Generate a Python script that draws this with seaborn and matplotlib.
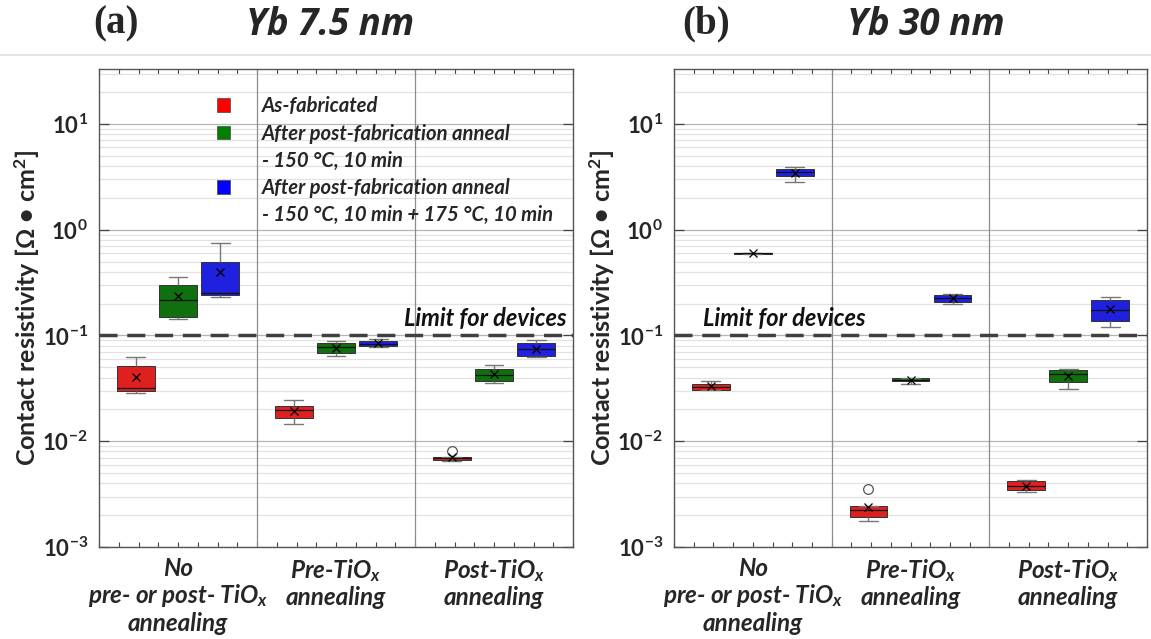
import numpy as np
import pandas as pd
import matplotlib
matplotlib.use("Agg")
import matplotlib.pyplot as plt
import seaborn as sns
from matplotlib.patches import Patch
from matplotlib.lines import Line2D
from matplotlib.ticker import FixedLocator, FuncFormatter, LogLocator, NullFormatter

# ---------------- data ----------------
groups = ["No\npre- or post- TiO$_x$\nannealing", "Pre-TiO$_x$\nannealing", "Post-TiO$_x$\nannealing"]
conditions = ["As-fabricated", "150C", "150C+175C"]
colors = ["#ff0000", "#008000", "#0000ff"]

# Yb 7.5 nm, one list per group (No / Pre / Post)
yb75_asfab = [[0.0285, 0.030, 0.0322, 0.0516, 0.062],
              [0.0147, 0.01675, 0.0198, 0.0216, 0.0247],
              [0.0065, 0.0067, 0.0069, 0.0071, 0.0081]]
yb75_150 = [[0.143, 0.151, 0.218, 0.301, 0.361],
            [0.064, 0.0684, 0.0772, 0.0855, 0.089],
            [0.0353, 0.0371, 0.0423, 0.0478, 0.0525]]
yb75_175 = [[0.230, 0.243, 0.254, 0.499, 0.745],
            [0.0772, 0.0789, 0.0836, 0.0885, 0.0924],
            [0.0623, 0.0636, 0.0739, 0.0841, 0.0911]]

# Yb 30 nm
yb30_asfab = [[0.0303, 0.0306, 0.0329, 0.0351, 0.0371],
              [0.00176, 0.00192, 0.00225, 0.00242, 0.00356],
              [0.00329, 0.00348, 0.00379, 0.00423, 0.00428]]
yb30_150 = [[0.588, 0.594, 0.598, 0.601, 0.606],
            [0.0346, 0.0369, 0.0381, 0.0394, 0.0398],
            [0.031, 0.0366, 0.0428, 0.0474, 0.0478]]
yb30_175 = [[2.85, 3.24, 3.48, 3.79, 3.94],
            [0.199, 0.209, 0.228, 0.2415, 0.245],
            [0.121, 0.138, 0.176, 0.216, 0.230]]

device_limit = 0.1
yticks = [1e-3, 1e-2, 1e-1, 1e0, 1e1]

legend_labels = ["As-fabricated", "After post-fabrication anneal", "- 150 °C, 10 min",
                 "After post-fabrication anneal", "- 150 °C, 10 min + 175 °C, 10 min"]


def make_df(series_list):
    rows = []
    for cond, series in zip(conditions, series_list):
        for g, vals in zip(groups, series):
            for v in vals:
                rows.append({"group": g, "condition": cond, "value": v})
    return pd.DataFrame(rows)


# ---------------- style ----------------
sns.set_theme(style="white")
plt.rcParams["font.family"] = ["Lato", "DejaVu Sans"]
plt.rcParams["font.weight"] = "bold"
plt.rcParams["mathtext.fontset"] = "custom"
plt.rcParams["mathtext.rm"] = "Lato:bold"
plt.rcParams["mathtext.it"] = "Lato:bold:italic"
plt.rcParams["mathtext.bf"] = "Lato:bold"

W, H = 1151, 639
fig = plt.figure(figsize=(W / 100, H / 100), dpi=100)
fig.patch.set_facecolor("white")

ax_a = fig.add_axes([99 / W, 1 - 547 / H, 474 / W, 478 / H])
ax_b = fig.add_axes([674 / W, 1 - 547 / H, 473 / W, 478 / H])

panels = [(ax_a, make_df([yb75_asfab, yb75_150, yb75_175])),
          (ax_b, make_df([yb30_asfab, yb30_150, yb30_175]))]

for ax, df in panels:
    sns.boxplot(data=df, x="group", y="value", hue="condition", order=groups,
                hue_order=conditions, palette=colors, width=0.8, gap=0.1,
                showmeans=True, linewidth=0.7, linecolor="#333333", legend=False,
                meanprops=dict(marker="x", markeredgecolor="black", markerfacecolor="black",
                               markersize=6, markeredgewidth=0.9),
                medianprops=dict(color="#111111", linewidth=0.9),
                whiskerprops=dict(color="#777777", linewidth=1.0),
                capprops=dict(color="#777777", linewidth=1.0),
                flierprops=dict(marker="o", markerfacecolor="white", markeredgecolor="#555555",
                                markersize=7, markeredgewidth=0.9),
                ax=ax, zorder=3)
    ax.set_yscale("log")
    ax.set_ylim(1e-3, 10 ** 1.52)
    ax.set_xlim(-0.5, 2.5)
    ax.set_xlabel("")
    ax.set_ylabel("Contact resistivity [Ω • cm$^2$]", fontsize=18, fontweight="bold", labelpad=0)

    # grid
    ax.yaxis.set_major_locator(FixedLocator(yticks))
    ax.yaxis.set_minor_locator(LogLocator(base=10, subs=np.arange(2, 10)))
    ax.yaxis.set_minor_formatter(NullFormatter())
    ax.yaxis.set_major_formatter(FuncFormatter(lambda v, p: "10$^{%d}$" % int(round(np.log10(v)))))
    ax.grid(True, axis="y", which="major", color="#b5b5b5", lw=0.9, zorder=0)
    ax.grid(True, axis="y", which="minor", color="#e2e2e2", lw=0.9, zorder=0)
    ax.grid(False, axis="x")
    for xs in (0.5, 1.5):
        ax.axvline(xs, color="#8c8c8c", lw=0.9, zorder=1)
    ax.set_axisbelow(True)

    # ticks
    ax.set_xticks([0, 1, 2])
    ax.set_xticklabels(groups, fontsize=17.5, fontstyle="italic", fontweight="bold", linespacing=1.12)
    ax.xaxis.set_minor_locator(FixedLocator(np.arange(-0.5, 2.5001, 0.125)))
    ax.tick_params(axis="x", which="both", direction="in", top=True, bottom=True,
                   length=3.5, width=0.8, color="#444444", pad=7)
    ax.tick_params(axis="y", which="major", direction="in", left=True, right=True,
                   length=7, width=0.9, color="#444444", labelsize=16, pad=8)
    ax.tick_params(axis="y", which="minor", length=0)
    for lab in ax.get_yticklabels():
        lab.set_fontweight("bold")
    for sp in ax.spines.values():
        sp.set_visible(True)
        sp.set_color("#555555")
        sp.set_linewidth(1.0)

    ax.axhline(device_limit, color="#404040", lw=2.5, dashes=(5.2, 2.8), zorder=4)

ax_a.text(0.987, device_limit * 1.24, "Limit for devices", transform=ax_a.get_yaxis_transform(),
          ha="right", va="baseline", fontsize=17, fontstyle="italic", fontweight="bold", color="#111111")
ax_b.text(0.061, device_limit * 1.24, "Limit for devices", transform=ax_b.get_yaxis_transform(),
          ha="left", va="baseline", fontsize=17, fontstyle="italic", fontweight="bold", color="#111111")

# legend
handles = [Patch(facecolor=colors[0], edgecolor="#555555", lw=0.6),
           Patch(facecolor=colors[1], edgecolor="#555555", lw=0.6),
           Patch(facecolor="none", edgecolor="none"),
           Patch(facecolor=colors[2], edgecolor="#555555", lw=0.6),
           Patch(facecolor="none", edgecolor="none")]
leg = ax_a.legend(handles, legend_labels, loc="upper left", bbox_to_anchor=(0.249, 0.943),
                  frameon=False, borderpad=0, borderaxespad=0, handlelength=0.65, handleheight=0.65,
                  handletextpad=1.55, labelspacing=0.36,
                  prop=dict(family=["Lato", "DejaVu Sans"], weight="bold", style="italic", size=14.6))

# titles
fig.text(93 / W, 1 - 24 / H, "(a)", ha="left", va="center", fontsize=28, fontweight="bold",
         family=["Liberation Serif", "DejaVu Serif"])
fig.text(330 / W, 1 - 25 / H, "Yb 7.5 nm", ha="center", va="center", fontsize=26.5,
         fontweight="bold", fontstyle="italic", family=["Open Sans", "DejaVu Sans"])
fig.text(682 / W, 1 - 24 / H, "(b)", ha="left", va="center", fontsize=28, fontweight="bold",
         family=["Liberation Serif", "DejaVu Serif"])
fig.text(926 / W, 1 - 25 / H, "Yb 30 nm", ha="center", va="center", fontsize=26.5,
         fontweight="bold", fontstyle="italic", family=["Open Sans", "DejaVu Sans"])
fig.add_artist(Line2D([0, 1], [1 - 55 / H, 1 - 55 / H], transform=fig.transFigure,
                      color="#e0e0e0", lw=1.2))

fig.savefig("out.png", dpi=100, facecolor="white")
